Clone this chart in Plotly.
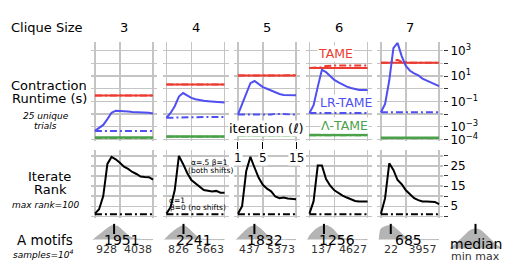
import plotly.graph_objects as go

W, H = 506, 276
FONT = "DejaVu Sans"

# ---------------- data ----------------
clique_sizes = [3, 4, 5, 6, 7]
iterations = list(range(1, 16))

# contraction runtime (seconds) per iteration
tame_shift_s = [
    [0.295] * 15,
    [2.19] * 15,
    [11.0] * 15,
    [43.6] * 15,
    [112, 112, 111, 112, 113, 112, 112, 111, 112, 112, 111, 112, 112, 111, 112],
]
tame_noshift_s = [
    [0.295] * 15,
    [2.19] * 15,
    [11.0, 11.0, 11.0, 11.0, 11.0, 11.0, 11.0, 11.1, 11.2, 11.3, 11.5, 11.5, 11.5, 11.5, 11.5],
    [43.6, 43.6, 44.0, 50.0, 62.0, 69.0, 69.0, 70.0, 69.0, 69.0, 70.0, 69.0, 69.0, 70.0, 69.0],
    [112, 112, 115, 160, 190, 130, 115, 112, 112, 112, 110, 112, 112, 110, 112],
]
lrtame_shift_s = [
    [4.7e-4, 7.9e-4, 1.4e-3, 4.0e-3, 1.26e-2, 1.86e-2, 1.82e-2, 1.74e-2, 1.62e-2, 1.48e-2, 1.41e-2, 1.48e-2, 1.38e-2, 1.26e-2, 1.10e-2],
    [5.1e-3, 1.23e-2, 4.17e-2, 0.24, 0.457, 0.282, 0.19, 0.148, 0.123, 0.112, 0.105, 0.098, 0.093, 0.089, 0.083],
    [9.1e-3, 5.75e-2, 0.427, 2.75, 4.07, 2.45, 1.35, 1.0, 0.724, 0.49, 0.389, 0.324, 0.316, 0.316, 0.309],
    [1.23e-2, 5.0e-2, 1.41, 31.6, 20.4, 9.5, 5.0, 3.16, 2.0, 1.48, 1.15, 0.95, 0.81, 0.79, 0.79],
    [1.41e-2, 6.3e-2, 4.47, 1585, 4169, 380, 63, 26.3, 16.6, 11.7, 6.3, 4.57, 3.0, 2.19, 1.62],
]
lrtame_noshift_s = [
    [4.6e-4] * 15,
    [5.1e-3, 5.3e-3, 5.4e-3, 5.5e-3, 5.6e-3, 5.6e-3, 5.7e-3, 5.7e-3, 5.8e-3, 5.8e-3, 5.9e-3, 5.9e-3, 6.0e-3, 6.0e-3, 6.0e-3],
    [9.1e-3, 9.1e-3, 9.1e-3, 9.1e-3, 9.1e-3, 9.1e-3, 9.1e-3, 9.1e-3, 9.3e-3, 1.05e-2, 1.02e-2, 9.3e-3, 9.1e-3, 9.1e-3, 9.1e-3],
    [1.23e-2] * 15,
    [1.41e-2] * 15,
]
lambda_shift_s = [
    [1.45e-4] * 15,
    [1.70e-4] * 15,
    [2.14e-4] * 15,
    [2.24e-4] * 15,
    [1.35e-4] * 15,
]
lambda_noshift_s = [
    [1.30e-4] * 15,
    [1.60e-4] * 15,
    [2.00e-4] * 15,
    [2.10e-4] * 15,
    [1.25e-4] * 15,
]

# iterate rank per iteration
rank_shift = [
    [1.3, 3.5, 10, 26, 29.5, 28.3, 26.6, 24.6, 23.5, 22, 21, 19.7, 19.5, 19.4, 18.2],
    [1.3, 4.5, 13, 30, 26, 21.5, 18, 16.4, 14.7, 13, 12.7, 12.3, 12.6, 11.7, 11.7],
    [1.3, 5, 22.5, 29.5, 24.1, 19.1, 15.6, 13.7, 12.4, 9.8, 9.0, 9.3, 8.8, 8.5, 8.4],
    [1.3, 7.5, 25.2, 25.2, 18.5, 15.2, 12.9, 11.5, 10.3, 9.3, 8.3, 7.6, 7.3, 7.3, 7.3],
    [1.3, 9, 26.3, 23, 18, 15.9, 12.9, 10.7, 9.0, 8.0, 7.3, 7.3, 7.3, 7.1, 6.0],
]
rank_noshift = [
    [1, 1, 1, 1, 1, 1, 1, 1, 1, 1, 1, 1, 1, 1, 1],
    [1, 1, 1, 1, 1, 1, 1, 1, 1, 1, 1, 1, 1, 1, 1],
    [1, 1, 1, 1, 1, 1, 1, 1, 1, 1, 1, 1, 1, 1, 1],
    [1, 1, 1, 1, 1, 1, 1, 1, 1, 1, 1, 1, 1, 1, 1],
    [1, 1, 1, 1, 1, 1, 1, 1, 1, 1, 1, 1, 1, 1, 1],
]

# A motifs (10^4 samples): summary and density profile
motif_median = [1951, 2241, 1832, 1256, 685]
motif_min = [928, 826, 437, 137, 22]
motif_max = [4038, 5663, 5373, 4627, 3957]
density_frac = [-0.03, 0.0, 0.1, 0.2, 0.3, 0.4, 0.5, 0.6, 0.7, 0.8, 0.9, 1.0]
motif_density = [
    [0, 0.10, 0.42, 0.75, 0.99, 0.90, 0.55, 0.20, 0.05, 0.01, 0, 0],
    [0, 0.15, 0.52, 0.82, 0.98, 0.70, 0.30, 0.04, 0.01, 0, 0, 0],
    [0, 0.12, 0.53, 0.86, 0.98, 0.72, 0.32, 0.03, 0, 0, 0, 0],
    [0, 0.25, 0.70, 0.93, 0.98, 0.75, 0.30, 0.06, 0.01, 0, 0, 0],
    [0, 0.75, 0.95, 0.95, 0.62, 0.25, 0.05, 0.01, 0, 0, 0, 0],
]
legend_frac = [0, 0.1, 0.2, 0.3, 0.4, 0.5, 0.6, 0.7, 0.8, 0.9, 1.0]
legend_density = [0, 0.2, 0.45, 0.7, 0.92, 1.0, 0.92, 0.7, 0.45, 0.2, 0]

runtime_label_exp = [-4, -3, -1, 1, 3]
runtime_label_text = ["10<sup>−4</sup>", "10<sup>−3</sup>", "10<sup>−1</sup>",
                      "10<sup>1</sup>", "10<sup>3</sup>"]
runtime_minor_exp = [-2, 0, 2]
rank_label_ticks = [5, 15, 25]
rank_minor_ticks = [0, 10, 20, 30]

# ---------------- styling ----------------
RED = "#ec3b31"
BLUE = "#4f4ff2"
GREEN = "#4aa14a"
GRID = "#c4c4c4"
SHADE = "#b4b4b4"
DASHDOT = "7px,3px,2px,3px"


def PX(x):
    return x / W


def PY(y):
    return 1 - y / H


col_left = [91 + 71.5 * i for i in range(5)]
col_w = 66

fig = go.Figure()
layout = {}


def grid_axis(right, major, minor, labels, rng, dom, anchor, log=False):
    d = dict(domain=dom, anchor=anchor, range=rng, tickmode="array", tickvals=major,
             showgrid=True, gridcolor=GRID, gridwidth=1.3, zeroline=False, showline=False,
             fixedrange=True,
             minor=dict(tickmode="array", tickvals=minor, showgrid=True, gridcolor=GRID,
                        gridwidth=1.3, ticks="outside" if right else "", ticklen=4,
                        tickcolor="#333"))
    if log:
        d["type"] = "log"
    if right:
        d.update(side="right", showticklabels=True, ticktext=labels, ticks="outside",
                 ticklen=4, tickcolor="#333",
                 tickfont=dict(family=FONT, size=12, color="black"))
    else:
        d.update(showticklabels=False, ticks="")
    return d


for i in range(5):
    xd = [PX(col_left[i]), PX(col_left[i] + col_w)]
    right = i == 4
    # ---- top row: runtime
    n = i + 1
    layout[f"xaxis{n}"] = dict(domain=xd, anchor=f"y{n}", range=[0.05, 15.95],
                               tickvals=[1, 7, 15], showgrid=True, gridcolor=GRID, gridwidth=1.3,
                               showticklabels=False, zeroline=False, showline=False,
                               ticks="outside" if i == 2 else "", ticklen=7, tickwidth=1,
                               tickcolor="black", fixedrange=True)
    layout[f"yaxis{n}"] = grid_axis(right, [10 ** e for e in runtime_label_exp],
                                    [10 ** e for e in runtime_minor_exp], runtime_label_text,
                                    [-4.155, 3.674], [PY(144), PY(43)], f"x{n}", log=True)
    for ys, col, dash, wdt in [
        (lambda_shift_s[i], GREEN, "solid", 2.5),
        (lambda_noshift_s[i], GREEN, DASHDOT, 2),
        (tame_shift_s[i], RED, "solid", 2),
        (tame_noshift_s[i], RED, DASHDOT, 2),
        (lrtame_noshift_s[i], BLUE, DASHDOT, 2),
        (lrtame_shift_s[i], BLUE, "solid", 2),
    ]:
        fig.add_trace(go.Scatter(x=iterations, y=ys, mode="lines", xaxis=f"x{n}", yaxis=f"y{n}",
                                 line=dict(color=col, width=wdt, dash=dash), hoverinfo="skip"))

    # ---- middle row: iterate rank
    n = i + 6
    layout[f"xaxis{n}"] = dict(domain=xd, anchor=f"y{n}", range=[0.05, 15.95],
                               tickvals=[1, 7, 15], showgrid=True, gridcolor=GRID, gridwidth=1.3,
                               showticklabels=False, zeroline=False, showline=False, ticks="",
                               fixedrange=True)
    layout[f"yaxis{n}"] = grid_axis(right, rank_label_ticks, rank_minor_ticks,
                                    [str(v) for v in rank_label_ticks], [-0.85, 32.8],
                                    [PY(222), PY(153)], f"x{n}")
    fig.add_trace(go.Scatter(x=iterations, y=rank_noshift[i], mode="lines", xaxis=f"x{n}",
                             yaxis=f"y{n}", line=dict(color="black", width=2, dash=DASHDOT),
                             hoverinfo="skip"))
    fig.add_trace(go.Scatter(x=iterations, y=rank_shift[i], mode="lines", xaxis=f"x{n}",
                             yaxis=f"y{n}", line=dict(color="black", width=2), hoverinfo="skip"))

    # ---- bottom row: motif distribution
    n = i + 11
    mn, mx, md = motif_min[i], motif_max[i], motif_median[i]
    pad = 4 / 58 * (mx - mn)
    layout[f"xaxis{n}"] = dict(domain=xd, anchor=f"y{n}", range=[mn - pad, mx + pad],
                               visible=False, fixedrange=True)
    layout[f"yaxis{n}"] = dict(domain=[PY(246), PY(228)], anchor=f"x{n}",
                               range=[-0.138, 1.103], visible=False, fixedrange=True)
    fig.add_trace(go.Scatter(x=[mn + f * (mx - mn) for f in density_frac], y=motif_density[i],
                             mode="lines", fill="tozeroy", fillcolor=SHADE,
                             line=dict(color=SHADE, width=1, shape="spline", smoothing=0.6),
                             xaxis=f"x{n}", yaxis=f"y{n}", hoverinfo="skip"))
    fig.add_trace(go.Scatter(x=[md], y=[0.76], mode="markers", xaxis=f"x{n}", yaxis=f"y{n}",
                             marker=dict(symbol="line-ns", size=7.5,
                                         line=dict(color="black", width=2)),
                             hoverinfo="skip"))

# legend glyph
layout["xaxis16"] = dict(domain=[PX(449), PX(502)], anchor="y16", range=[-0.02, 1.02],
                         visible=False, fixedrange=True)
layout["yaxis16"] = dict(domain=[PY(256), PY(228)], anchor="x16", range=[-0.15, 1.25],
                         visible=False, fixedrange=True)
fig.add_trace(go.Scatter(x=legend_frac, y=legend_density, mode="lines", fill="tozeroy",
                         fillcolor=SHADE, line=dict(color=SHADE, width=1, shape="spline",
                                                    smoothing=0.6),
                         xaxis="x16", yaxis="y16", hoverinfo="skip"))
fig.add_trace(go.Scatter(x=[0.5], y=[1.0], mode="markers", xaxis="x16", yaxis="y16",
                         marker=dict(symbol="line-ns", size=7.5, line=dict(color="black", width=2)),
                         hoverinfo="skip"))

# ---------------- annotations ----------------
ann = []


def text(t, x, y, size, color="black", bg=None, xanchor="center"):
    d = dict(text=t, x=PX(x), y=PY(y), xref="paper", yref="paper", showarrow=False,
             xanchor=xanchor, yanchor="middle", font=dict(family=FONT, size=size, color=color))
    if bg:
        d.update(bgcolor=bg, borderpad=0)
    ann.append(d)


text("Clique Size", 46.7, 28, 13)
for i, c in enumerate(clique_sizes):
    text(str(c), col_left[i] + col_w / 2, 28, 13)

text("Contraction", 49, 87.3, 13)
text("Runtime (s)", 49.3, 100.7, 13)
text("<i>25 unique</i>", 45.5, 118.3, 9)
text("<i>trials</i>", 45.5, 128.3, 9)
text("Iterate", 49.5, 179.3, 13)
text("Rank", 50.5, 193.3, 13)
text("<i>max rank=100</i>", 45.5, 208.3, 9)
text("A motifs", 44.7, 244, 13.5)
text("<i>samples=10<sup>4</sup></i>", 42.5, 258.3, 9)

text("TAME", 335.5, 54.3, 12.5, RED, bg="white")
text("LR-TAME", 346.7, 104, 12.5, BLUE, bg="white")
text("Λ-TAME", 344.5, 127.7, 12.5, GREEN, bg="white")
text("iteration (<i>ℓ</i>)", 266, 131, 13, bg="white")

for xv, lab in [(1, "1"), (7, "5"), (15, "15")]:
    ann.append(dict(text=lab, x=xv, xref="x3", y=PY(161), yref="paper", showarrow=False,
                    xanchor="center", yanchor="middle", bgcolor="white", borderpad=0,
                    font=dict(family=FONT, size=12, color="black")))

text("α=.5 β=1", 209.5, 165, 7.5)
text("(both shifts)", 210.5, 173.3, 7.5)
text("α=1", 166.7, 204, 7.5, xanchor="left")
text("β=0 (no shifts)", 168, 211.5, 7.5, xanchor="left")

NB = "\u00a0"
for i in range(5):
    cx = col_left[i] + col_w / 2
    text(str(motif_median[i]), cx - 2, 244, 14)
    smin = str(motif_min[i])
    text(smin + NB * (5 - len(smin)) + str(motif_max[i]), cx, 254.5, 11, color="#333")

text("median", 475.5, 248.3, 14)
text("min max", 475, 261.7, 11, color="#333")

fig.update_layout(**layout)
fig.update_layout(width=W, height=H, autosize=False, margin=dict(l=0, r=0, t=0, b=0),
                  paper_bgcolor="white", plot_bgcolor="white", showlegend=False,
                  annotations=ann, font=dict(family=FONT), hovermode=False)

fig.write_html("out.html", config={"displayModeBar": False, "staticPlot": True},
               post_script="document.body.style.margin='0';document.body.style.padding='0';")
